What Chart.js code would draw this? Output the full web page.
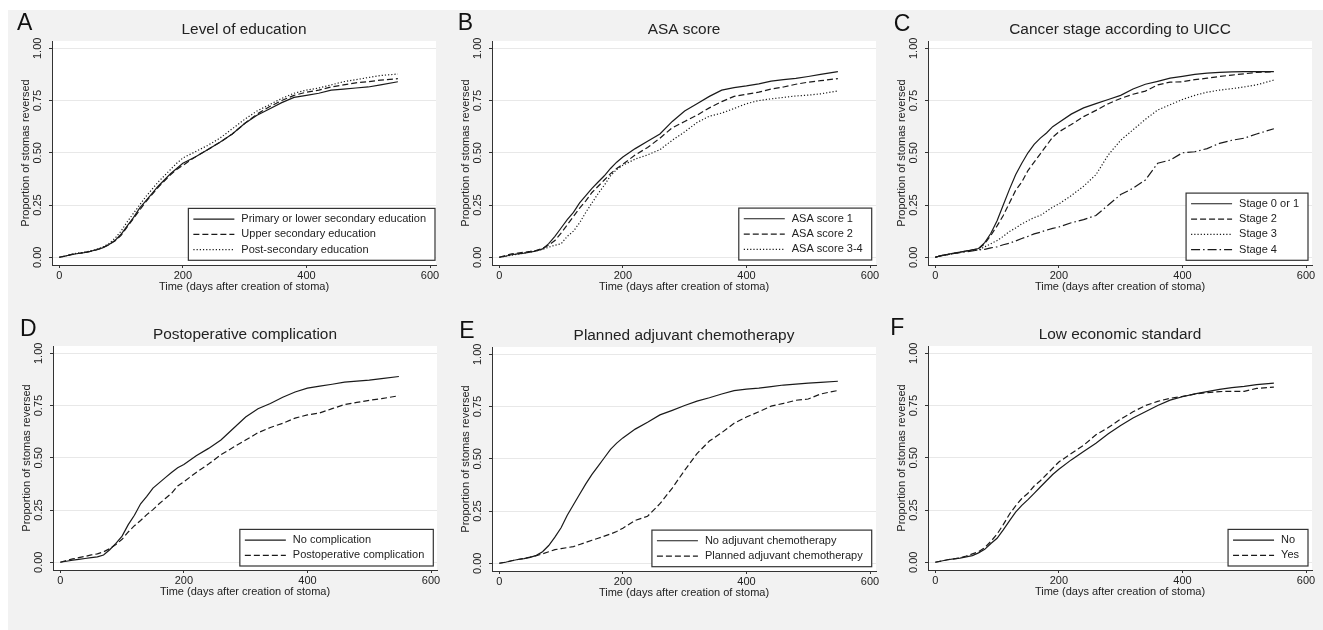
<!DOCTYPE html>
<html>
<head>
<meta charset="utf-8">
<script src="https://cdn.jsdelivr.net/npm/chart.js@4.4.1/dist/chart.umd.min.js"></script>
<style>
  body { margin: 0; background: #fff; width: 1323px; height: 630px; position: relative; overflow: hidden; }
  .panelBg { position: absolute; left: 8px; top: 10px; width: 1315px; height: 620px; background: #f2f2f2; }
  canvas { position: absolute; }
</style>
</head>
<body>
<div class="panelBg"></div>
<canvas id="chartA" width="441" height="315" style="left:0px;top:0px"></canvas>
<canvas id="chartB" width="441" height="315" style="left:440px;top:0px"></canvas>
<canvas id="chartC" width="441" height="315" style="left:876px;top:0px"></canvas>
<canvas id="chartD" width="441" height="315" style="left:1px;top:305px"></canvas>
<canvas id="chartE" width="441" height="315" style="left:440px;top:306px"></canvas>
<canvas id="chartF" width="441" height="315" style="left:876px;top:305px"></canvas>
<script>
// time points (days after creation of stoma) where the curves were read
const days = [0, 10, 20, 30, 40, 50, 60, 70, 80, 90, 100, 110, 120, 130, 140, 150, 160, 170, 180, 190, 200,
  220, 240, 260, 280, 300, 320, 340, 360, 380, 400, 420, 440, 460, 480, 500, 520, 548]
const xTicks = [0, 200, 400, 600]
const yTicks = [0, 0.25, 0.5, 0.75, 1]

// A - level of education
const eduLabels = ['Primary or lower secondary education', 'Upper secondary education', 'Post-secondary education']
const eduPrimary = [0, .006, .013, .018, .022, .028, .036, .045, .06, .08, .11, .15, .19, .235, .27, .305, .34, .37, .40, .425, .45,
  .48, .515, .55, .59, .64, .68, .71, .74, .765, .775, .785, .80, .805, .81, .815, .825, .84]
const eduUpper = [0, .006, .014, .018, .022, .028, .035, .045, .06, .078, .105, .145, .185, .225, .265, .30, .335, .365, .395, .42, .44,
  .48, .515, .55, .59, .64, .685, .72, .75, .775, .79, .80, .815, .825, .835, .84, .848, .855]
const eduPost = [0, .006, .014, .02, .024, .03, .038, .048, .065, .09, .125, .17, .21, .25, .29, .325, .36, .39, .42, .45, .475,
  .505, .535, .57, .615, .66, .70, .73, .76, .785, .80, .81, .825, .84, .85, .86, .87, .877]

// B - ASA score
const asaLabels = ['ASA score 1', 'ASA score 2', 'ASA score 3-4']
const asa1 = [0, .005, .012, .016, .02, .025, .03, .04, .065, .10, .14, .18, .215, .26, .295, .33, .36, .39, .425, .455, .48,
  .52, .555, .59, .65, .70, .735, .77, .80, .812, .82, .83, .843, .85, .856, .865, .875, .888]
const asa2 = [0, .008, .016, .02, .024, .028, .033, .042, .058, .08, .115, .155, .195, .235, .27, .31, .34, .37, .40, .425, .445,
  .49, .525, .57, .62, .65, .68, .715, .745, .77, .78, .79, .805, .815, .828, .838, .845, .855]
const asa34 = [0, .005, .01, .015, .02, .025, .03, .038, .048, .058, .064, .10, .125, .165, .215, .26, .305, .345, .39, .42, .44,
  .47, .49, .515, .56, .60, .645, .675, .69, .712, .735, .75, .758, .765, .772, .776, .782, .796]

// C - cancer stage
const stageLabels = ['Stage 0 or 1', 'Stage 2', 'Stage 3', 'Stage 4']
const stage01 = [0, .008, .014, .02, .025, .03, .035, .042, .07, .115, .175, .25, .325, .395, .45, .50, .54, .57, .595, .625, .645,
  .685, .715, .735, .755, .775, .805, .828, .842, .857, .866, .875, .881, .885, .887, .888, .888, .888]
const stage2 = [0, .008, .013, .018, .024, .03, .035, .04, .065, .105, .15, .20, .26, .32, .36, .415, .455, .495, .535, .575, .60,
  .635, .673, .703, .735, .76, .78, .795, .825, .838, .84, .85, .857, .865, .872, .878, .885, .888]
const stage3 = [0, .008, .013, .018, .024, .03, .033, .035, .05, .065, .08, .10, .123, .14, .16, .175, .19, .20, .22, .24, .255,
  .295, .34, .395, .49, .56, .61, .66, .705, .73, .755, .775, .79, .80, .807, .815, .825, .848]
const stage4 = [0, .008, .013, .018, .022, .026, .03, .035, .038, .045, .05, .06, .067, .078, .09, .10, .112, .12, .13, .138, .145,
  .165, .18, .20, .25, .30, .33, .37, .45, .465, .50, .505, .52, .545, .56, .57, .59, .615]

// D - postoperative complication
const compLabels = ['No complication', 'Postoperative complication']
const noComplication = [0, .005, .01, .014, .018, .022, .026, .035, .06, .09, .125, .18, .225, .28, .315, .355, .38, .405, .43, .452, .468,
  .51, .545, .585, .64, .695, .735, .76, .79, .815, .833, .843, .852, .862, .867, .872, .879, .889]
const postopComplication = [0, .008, .016, .022, .028, .035, .04, .05, .065, .085, .11, .145, .175, .20, .228, .252, .28, .305, .33, .365, .385,
  .43, .47, .515, .55, .585, .62, .645, .665, .69, .705, .715, .735, .755, .765, .775, .783, .797]

// E - planned adjuvant chemotherapy
const chemoLabels = ['No adjuvant chemotherapy', 'Planned adjuvant chemotherapy']
const noChemo = [0, .005, .012, .018, .022, .028, .038, .055, .085, .125, .17, .23, .28, .33, .38, .425, .465, .505, .545, .575, .60,
  .642, .675, .71, .732, .755, .776, .792, .81, .826, .833, .838, .845, .853, .857, .862, .866, .871]
const plannedChemo = [0, .005, .012, .018, .023, .03, .036, .045, .055, .065, .07, .075, .08, .09, .10, .11, .12, .13, .14, .152, .168,
  .205, .225, .285, .36, .445, .525, .585, .625, .67, .70, .725, .752, .765, .78, .786, .81, .827]

// F - low economic standard
const econLabels = ['No', 'Yes']
const econNo = [0, .006, .012, .016, .02, .026, .032, .045, .062, .09, .115, .155, .198, .24, .272, .30, .33, .36, .39, .42, .445,
  .49, .53, .57, .615, .655, .69, .72, .75, .776, .792, .806, .817, .827, .836, .842, .85, .857]
const econYes = [0, .006, .012, .016, .021, .03, .04, .05, .07, .10, .135, .18, .23, .27, .305, .33, .365, .39, .42, .45, .48,
  .52, .56, .61, .645, .685, .72, .75, .77, .785, .794, .805, .812, .817, .818, .818, .832, .838]

const FONT = '"Liberation Sans", Arial, sans-serif'
const INK = '#222'
const AXIS = '#333'
const DASHES = [[], [6, 3], [1.2, 2], [9, 3, 1.5, 3]]

// white plot region like stata's plotregion
const plotBg = {
  id: 'plotBg',
  beforeDraw(chart) {
    const { ctx, chartArea: a } = chart
    ctx.save()
    ctx.fillStyle = '#fff'
    ctx.fillRect(a.left, a.top, a.right - a.left, a.bottom - a.top)
    ctx.restore()
  },
}

// big panel letter in the corner
const panelLetter = {
  id: 'panelLetter',
  afterDraw(chart, args, o) {
    const ctx = chart.ctx
    ctx.save()
    ctx.font = '23px ' + FONT
    ctx.fillStyle = '#111'
    ctx.textBaseline = 'alphabetic'
    ctx.fillText(o.text, o.x, o.y)
    ctx.restore()
  },
}

// framed legend in the bottom right of the plot
const boxLegend = {
  id: 'boxLegend',
  afterDraw(chart, args, o) {
    const { ctx, chartArea } = chart
    const sets = chart.data.datasets
    ctx.save()
    ctx.font = '11px ' + FONT
    const textW = Math.max(...sets.map((d) => ctx.measureText(d.label).width))
    const rowH = 15.3
    const w = 5 + 41 + 7 + textW + 9
    const h = sets.length * rowH + 6
    const left = chartArea.right - o.insetRight - w
    const top = chartArea.bottom - o.insetBottom - h
    ctx.fillStyle = '#fff'
    ctx.fillRect(left, top, w, h)
    ctx.strokeStyle = AXIS
    ctx.lineWidth = 1.2
    ctx.strokeRect(left, top, w, h)
    sets.forEach((d, i) => {
      const cy = top + 3 + rowH * (i + 0.5)
      ctx.setLineDash(d.borderDash)
      ctx.lineWidth = d.borderWidth
      ctx.strokeStyle = d.borderColor
      ctx.beginPath()
      ctx.moveTo(left + 5, cy)
      ctx.lineTo(left + 46, cy)
      ctx.stroke()
      ctx.setLineDash([])
      ctx.fillStyle = INK
      ctx.textBaseline = 'middle'
      ctx.textAlign = 'left'
      ctx.fillText(d.label, left + 53, cy)
    })
    ctx.restore()
  },
}

function makePanel(id, letter, title, labels, series, legendInset) {
  return new Chart(document.getElementById(id), {
    type: 'line',
    data: {
      datasets: series.map((values, i) => ({
        label: labels[i],
        data: days.map((d, j) => ({ x: d, y: values[j] })),
        borderColor: '#1a1a1a',
        borderWidth: 1.2,
        borderDash: DASHES[i],
        pointRadius: 0,
        tension: 0,
        fill: false,
      })),
    },
    options: {
      responsive: false,
      animation: false,
      devicePixelRatio: 1,
      layout: { padding: { left: 0, right: 5, top: 0, bottom: 20 } },
      scales: {
        x: {
          type: 'linear',
          min: -11.8,
          max: 609.7,
          afterBuildTicks: (s) => { s.ticks = xTicks.map((v) => ({ value: v })) },
          ticks: {
            maxRotation: 0,
            padding: 1.7,
            color: INK,
            font: { family: FONT, size: 11 },
          },
          grid: { drawOnChartArea: false, tickLength: 3, tickColor: AXIS, tickWidth: 1 },
          border: { color: AXIS, width: 1 },
          title: {
            display: true,
            text: 'Time (days after creation of stoma)',
            color: INK,
            font: { family: FONT, size: 11 },
            padding: { top: 0, bottom: 1.4 },
          },
          afterFit: (s) => {
            s.height = 30
            s.paddingLeft = 0
            s.paddingRight = 0
          },
        },
        y: {
          min: -0.037,
          max: 1.035,
          afterBuildTicks: (s) => { s.ticks = yTicks.map((v) => ({ value: v })) },
          ticks: {
            minRotation: 90,
            maxRotation: 90,
            crossAlign: 'center',
            padding: 0.8,
            color: INK,
            font: { family: FONT, size: 11 },
            callback: (v) => v.toFixed(2),
          },
          grid: { color: '#e8e8e8', lineWidth: 1, tickLength: 3, tickColor: AXIS, tickWidth: 1 },
          border: { color: AXIS, width: 1 },
          title: {
            display: true,
            text: 'Proportion of stomas reversed',
            color: INK,
            font: { family: FONT, size: 11 },
            padding: { top: 19.7, bottom: 0 },
          },
          afterFit: (s) => {
            s.width = 52
            s.paddingTop = 0
            s.paddingBottom = 0
          },
        },
      },
      plugins: {
        legend: { display: false },
        tooltip: { enabled: false },
        title: {
          display: true,
          fullSize: false,
          text: title,
          color: INK,
          font: { family: FONT, size: 15.4, weight: 'normal', lineHeight: 1.2 },
          padding: { top: 20.46, bottom: 2.06 },
        },
        panelLetter: letter,
        boxLegend: legendInset,
      },
    },
    plugins: [plotBg, panelLetter, boxLegend],
  })
}

makePanel('chartA', { text: 'A', x: 17, y: 30 }, 'Level of education', eduLabels,
  [eduPrimary, eduUpper, eduPost], { insetRight: 1, insetBottom: 4.7 })
makePanel('chartB', { text: 'B', x: 17.7, y: 30 }, 'ASA score', asaLabels,
  [asa1, asa2, asa34], { insetRight: 4.3, insetBottom: 5 })
makePanel('chartC', { text: 'C', x: 17.7, y: 30.5 }, 'Cancer stage according to UICC', stageLabels,
  [stage01, stage2, stage3, stage4], { insetRight: 4, insetBottom: 4.7 })
makePanel('chartD', { text: 'D', x: 19, y: 30.7 }, 'Postoperative complication', compLabels,
  [noComplication, postopComplication], { insetRight: 3.7, insetBottom: 4 })
makePanel('chartE', { text: 'E', x: 19.3, y: 32 }, 'Planned adjuvant chemotherapy', chemoLabels,
  [noChemo, plannedChemo], { insetRight: 4.3, insetBottom: 4.3 })
makePanel('chartF', { text: 'F', x: 14.3, y: 30 }, 'Low economic standard', econLabels,
  [econNo, econYes], { insetRight: 4, insetBottom: 4 })
</script>
</body>
</html>
